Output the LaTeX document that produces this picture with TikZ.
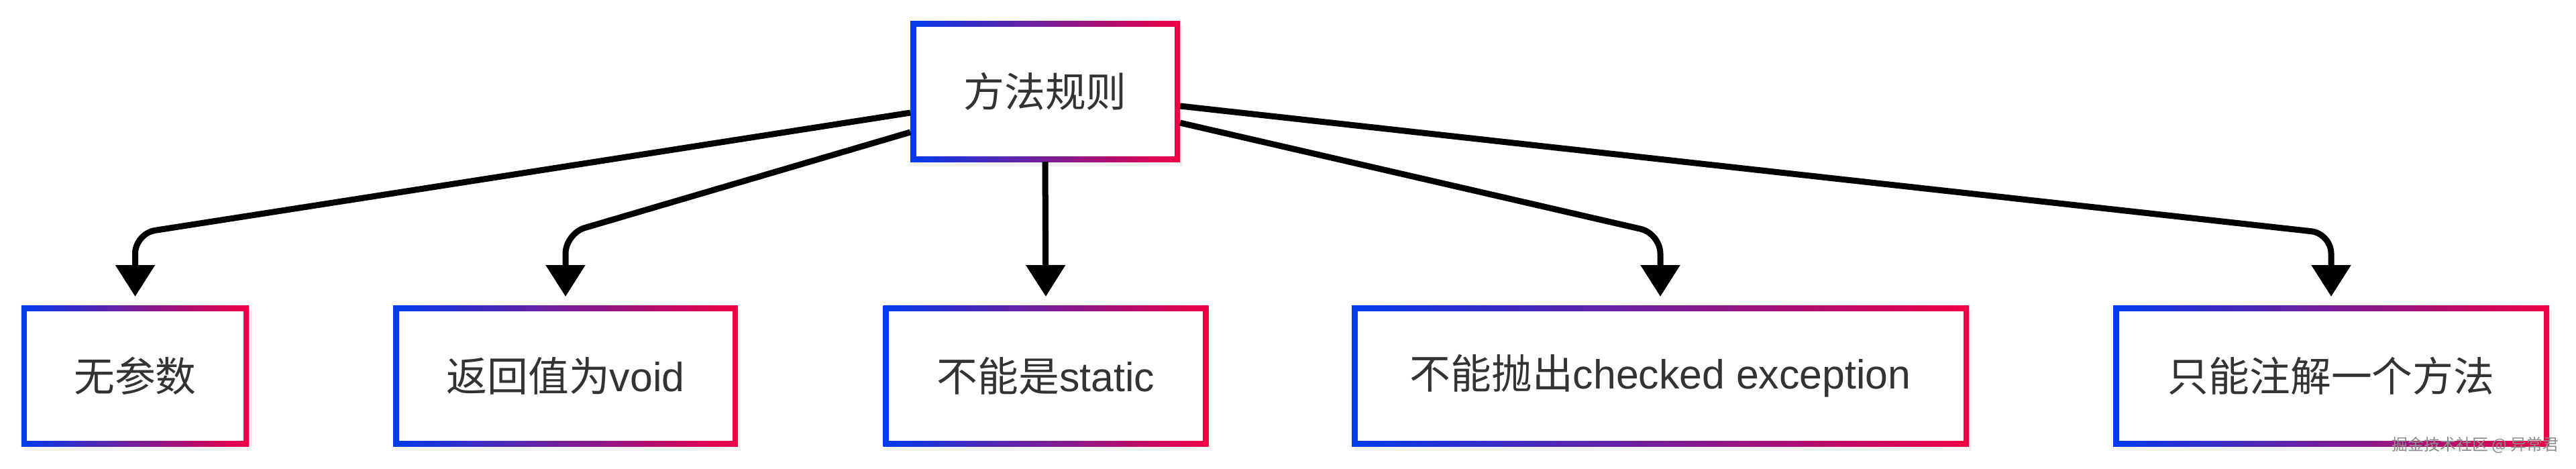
\documentclass[tikz,border=0pt]{standalone}
\usepackage{fontspec}
\setmainfont{Liberation Sans}
\newfontfamily\cjk{Noto Sans CJK SC}
\usetikzlibrary{arrows.meta,shadows}
\definecolor{gblue}{RGB}{0,59,236}
\definecolor{gred}{RGB}{240,0,70}
\definecolor{txt}{RGB}{51,51,51}
\definecolor{wmark}{RGB}{140,140,140}
\newcommand{\zhtxt}[1]{{\cjk #1}}
\tikzset{
  gbox/.style={rectangle, inner sep=0pt, outer sep=0pt, draw=none,
    minimum height=21mm, left color=gblue, right color=gred,
    text=txt, font=\fontsize{17.3pt}{20pt}\selectfont,
    drop shadow={opacity=0.10, shadow xshift=0.4mm, shadow yshift=-0.7mm},
    path picture={\fill[white]
      ([shift={(0.85mm,0.85mm)}]path picture bounding box.south west) rectangle
      ([shift={(-0.85mm,-0.85mm)}]path picture bounding box.north east);}},
  conn/.style={line width=0.9mm, rounded corners=3mm,
    -{Triangle[length=4.7mm,width=5.7mm]}, shorten >=1.3mm}
}
\begin{document}
\begin{tikzpicture}[x=1mm,y=1mm]
\useasboundingbox (0,0) rectangle (384,69.8);
\fill[white] (0,0) rectangle (384,69.8);
\node[gbox, minimum width=40.2mm] (top) at (155.8,56.2) {\zhtxt{方法规则}};
\node[gbox, minimum width=33.9mm] (n1) at (20.15,13.8) {\zhtxt{无参数}};
\node[gbox, minimum width=51.4mm] (n2) at (84.3,13.8) {\zhtxt{返回值为}void};
\node[gbox, minimum width=48.5mm] (n3) at (155.9,13.8) {\zhtxt{不能是}static};
\node[gbox, minimum width=92mm] (n4) at (247.5,13.8) {\zhtxt{不能抛出}checked exception};
\node[gbox, minimum width=65mm] (n5) at (347.5,13.8) {\zhtxt{只能注解一个方法}};
\coordinate (lvl) at (0,35);
\draw[conn] ([yshift=-3.2mm]top.west) -- (n1.north |- lvl) -- (n1.north);
\draw[conn] ([yshift=-6.1mm]top.west) -- (n2.north |- lvl) -- (n2.north);
\draw[conn] (top.south) -- (n3.north);
\draw[conn] ([yshift=-4.7mm]top.east) -- (n4.north |- lvl) -- (n4.north);
\draw[conn] ([yshift=-2.2mm]top.east) -- (n5.north |- lvl) -- (n5.north);
\node[text=wmark, font=\fontsize{6.8pt}{8pt}\selectfont, inner sep=0pt] (wm) at (369,3.5) {\zhtxt{掘金技术社区 @ 异常君}};
\end{tikzpicture}
\end{document}
